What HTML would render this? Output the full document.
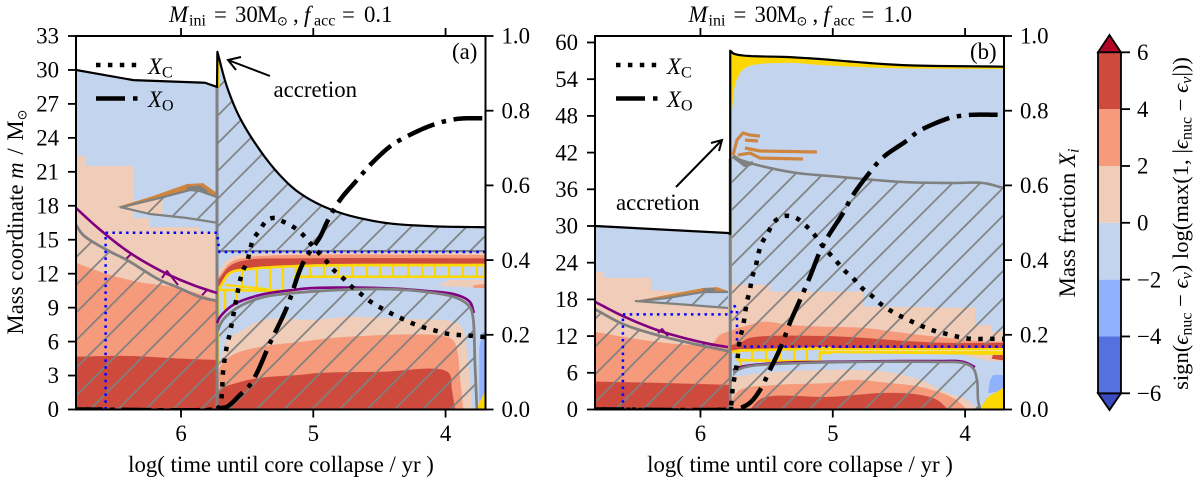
<!DOCTYPE html>
<html lang="en">
<head>
<meta charset="utf-8">
<title>Kippenhahn diagrams</title>
<style>
html,body{margin:0;padding:0;background:#fff;}
svg{display:block;font-family:"Liberation Serif","DejaVu Serif",serif;fill:#000;}
text{font-size:22.8px;}
.sub{font-size:16px;}
.it{font-style:italic;}
.sun{font-family:"DejaVu Sans",sans-serif;font-size:13px;}
</style>
</head>
<body>
<svg id="fig" xmlns="http://www.w3.org/2000/svg" width="1200" height="483" viewBox="0 0 1200 483">
<defs>
<clipPath id="clipA"><rect x="76" y="36" width="409.5" height="373.5"/></clipPath>
<clipPath id="clipB"><rect x="595" y="36" width="409" height="373.5"/></clipPath>
<pattern id="hatchA" patternUnits="userSpaceOnUse" width="27.7" height="27.7" patternTransform="translate(90 409.5)"><path d="M0,27.7 L27.7,0 M-2,2 L2,-2 M25.7,29.7 L29.7,25.7" stroke="#808080" stroke-width="1.7" fill="none"/></pattern>
<pattern id="hatchB" patternUnits="userSpaceOnUse" width="27.7" height="27.7" patternTransform="translate(643 409.5)"><path d="M0,27.7 L27.7,0 M-2,2 L2,-2 M25.7,29.7 L29.7,25.7" stroke="#808080" stroke-width="1.7" fill="none"/></pattern>
</defs>
<g id="panelA" clip-path="url(#clipA)"></g>
<g id="panelB" clip-path="url(#clipB)"></g>
<g id="axes"></g>

<text y="22"><tspan class="it" x="169">M</tspan><tspan class="sub" x="189" dy="3.5">ini</tspan><tspan x="214" dy="-3.5">=</tspan><tspan x="235">30</tspan><tspan x="257">M</tspan><tspan class="sun" x="277" dy="3.5">⊙</tspan><tspan x="293" dy="-3.5">,</tspan><tspan class="it" x="304">f</tspan><tspan class="sub" x="314" dy="3.5">acc</tspan><tspan x="342" dy="-3.5">=</tspan><tspan x="364">0.1</tspan></text>
<text y="22"><tspan class="it" x="688.5">M</tspan><tspan class="sub" x="708.5" dy="3.5">ini</tspan><tspan x="733.5" dy="-3.5">=</tspan><tspan x="754.5">30</tspan><tspan x="776.5">M</tspan><tspan class="sun" x="796.5" dy="3.5">⊙</tspan><tspan x="812.5" dy="-3.5">,</tspan><tspan class="it" x="823.5">f</tspan><tspan class="sub" x="833.5" dy="3.5">acc</tspan><tspan x="861.5" dy="-3.5">=</tspan><tspan x="883.5">1.0</tspan></text>
<text x="281" y="472" text-anchor="middle">log( time until core collapse / yr )</text>
<text x="800" y="472" text-anchor="middle">log( time until core collapse / yr )</text>
<text transform="rotate(-90 23 222)" x="23" y="222" text-anchor="middle">Mass coordinate <tspan class="it">m</tspan> <tspan dx="2">/</tspan> <tspan dx="2">M</tspan><tspan class="sun" dy="3.5">⊙</tspan></text>
<text transform="rotate(-90 1075 223)" x="1075" y="223" text-anchor="middle">Mass fraction <tspan class="it">X</tspan><tspan class="sub it" dy="3.5">i</tspan></text>
<text x="452" y="59">(a)</text>
<text x="970" y="59">(b)</text>

<g>
<line x1="96" y1="65" x2="138" y2="65" stroke="#000" stroke-width="4.5" stroke-dasharray="4.5 7.4"/>
<text x="148" y="74"><tspan class="it">X</tspan><tspan class="sub" dy="3.5">C</tspan></text>
<line x1="96" y1="98.5" x2="138" y2="98.5" stroke="#000" stroke-width="4.5" stroke-dasharray="29 8 4.5 8"/>
<text x="148" y="107"><tspan class="it">X</tspan><tspan class="sub" dy="3.5">O</tspan></text>
</g>
<g>
<line x1="616" y1="65" x2="658" y2="65" stroke="#000" stroke-width="4.5" stroke-dasharray="4.5 7.4"/>
<text x="667" y="74"><tspan class="it">X</tspan><tspan class="sub" dy="3.5">C</tspan></text>
<line x1="616" y1="98.5" x2="658" y2="98.5" stroke="#000" stroke-width="4.5" stroke-dasharray="29 8 4.5 8"/>
<text x="667" y="107"><tspan class="it">X</tspan><tspan class="sub" dy="3.5">O</tspan></text>
</g>

<g>
<text x="273.5" y="97">accretion</text>
<path d="M270,76 L228,60 M241,57 L228,60 L236,70" fill="none" stroke="#000" stroke-width="2"/>
</g>
<g>
<text x="616" y="210">accretion</text>
<path d="M676,187 L722,140 M711,143 L722,140 L719,151" fill="none" stroke="#000" stroke-width="2"/>
</g>

<g id="colorbar"></g>
<text transform="rotate(-90 1188 223.5)" x="1188" y="223.5" text-anchor="middle" style="font-size:22.6px">sign(<tspan class="it">ϵ</tspan><tspan class="sub" dy="3.5">nuc</tspan><tspan dy="-3.5"> − </tspan><tspan class="it">ϵ</tspan><tspan class="sub it" dy="3.5">ν</tspan><tspan dy="-3.5">) log(max(1, |</tspan><tspan class="it">ϵ</tspan><tspan class="sub" dy="3.5">nuc</tspan><tspan dy="-3.5"> − </tspan><tspan class="it">ϵ</tspan><tspan class="sub it" dy="3.5">ν</tspan><tspan dy="-3.5">|))</tspan></text>
</svg>

<script>
/* ---------- axis data ---------- */
const timeTicks=[6,5,4];
const timeTickLabels=['6','5','4'];
const massTicksA=[0,3,6,9,12,15,18,21,24,27,30,33];
const massTicksB=[0,6,12,18,24,30,36,42,48,54,60];
const fractionTicks=[0,0.2,0.4,0.6,0.8,1];
const fractionTickLabels=['0.0','0.2','0.4','0.6','0.8','1.0'];
const colorLevels=[-6,-4,-2,0,2,4,6];
const colorLevelLabels=['−6','−4','−2','0','2','4','6'];
const colorBands=['#5570df','#8fb1fe','#c3d5ee','#f0cdb9','#f59a7b','#cd4a3c'];
const colorUnder='#3b4cc0';
const colorOver='#b40426';

/* ---------- panel (a) mass fractions ---------- */
const aXCtime=[6.79,5.75,5.72,5.705,5.69,5.683,5.652,5.63,5.539,5.501,5.478,5.456,5.403,5.35,5.29,5.252,5.161,5.093,5.025,4.965,4.904,4.844,4.776,4.707,4.639,4.564,4.488,4.405,4.322,4.239,4.148,4.065,3.975,3.877,3.793,3.702];
const aXCvalue=[0,0,0.004,0.012,0.044,0.098,0.173,0.205,0.365,0.395,0.427,0.454,0.481,0.507,0.513,0.507,0.491,0.473,0.446,0.422,0.398,0.373,0.352,0.328,0.309,0.288,0.272,0.256,0.242,0.229,0.218,0.21,0.202,0.199,0.197,0.194];
const aXOtime=[6.79,5.75,5.72,5.652,5.554,5.478,5.426,5.327,5.199,5.078,4.949,4.889,4.798,4.67,4.556,4.405,4.254,4.08,3.914,3.702];
const aXOvalue=[0,0,0.003,0.0075,0.039,0.066,0.098,0.178,0.274,0.392,0.462,0.507,0.561,0.614,0.66,0.708,0.738,0.764,0.778,0.78];

/* ---------- panel (a) structure: [log time, mass] ---------- */
const aTotalBefore=[[6.794,30],[6.36,29.1],[5.819,28.87],[5.728,28.5]];
const aTotalAfterSpike=[[5.725,31.6],[5.652,28.5],[5.554,25.75],[5.403,22.9],[5.252,20.7],[5.10,19.1],[4.851,17.6],[4.496,16.56],[4.118,16.2],[3.698,16.1]];
const aLeftPeach=[[6.794,22.4],[6.718,22.4],[6.718,21.5],[6.363,21.5],[6.363,16.9],[6.242,16.9],[6.242,16.1],[5.856,16.1],[5.856,15.7],[5.728,15.7]];
const aLeftSalmon=[[6.794,12.95],[6.59,12.07],[6.333,11.28],[6.03,10.75],[5.803,9.95],[5.728,9.5]];
const aLeftRed=[[6.794,4.65],[6.408,4.72],[6.03,4.5],[5.728,4.36]];
const aLeftGray=[[6.794,16.3],[6.74,15.42],[6.56,14.09],[6.408,13.2],[6.16,11.44],[6.03,10.82],[5.856,9.94],[5.728,9.59]];
const aLeftPurple=[[6.794,17.8],[6.61,15.86],[6.385,13.83],[6.136,12.15],[5.909,11.0],[5.728,10.29]];
const aPurpleSpurs=[[[6.423,13.21],[6.37,13.83]],[[6.144,11.62],[6.106,12.24],[6.023,11.0]],[[5.841,10.1],[5.803,10.56]]];
const aOrangeTop=[[6.484,17.89],[6.234,18.78],[5.955,19.92],[5.834,20.0],[5.728,19.13]];
const aShellGrayTop=[[6.461,17.85],[6.159,18.69],[5.932,19.39],[5.856,19.3],[5.728,18.77]];
const aShellGrayBottom=[[6.461,17.89],[6.234,17.27],[5.955,16.92],[5.728,16.5]];
const aShellPeach=[[6.461,17.85],[6.234,18.45],[6.14,18.6],[6.14,17.3],[6.234,17.27]];
const aShellBlob=[[5.955,19.5],[5.856,19.6],[5.8,19.1]];
const aBandPeach=[[5.72,11.8],[5.667,13.03],[5.592,13.56],[5.403,13.74],[3.698,13.83]];
const aBandSalmon=[[5.72,11.6],[5.63,12.94],[5.50,13.43],[5.10,13.65],[3.698,13.65]];
const aBandRed=[[5.72,11.4],[5.63,12.68],[5.50,13.2],[5.10,13.34],[3.698,13.34]];
const aBandSalmonLow=[[5.72,10.7],[5.63,12.05],[5.478,12.42],[5.10,12.78],[3.698,12.87]];
const aBandBlue=[[5.72,10.6],[5.63,11.97],[5.478,12.33],[5.10,12.68],[3.698,12.77]];
const aWedgePeach=[[3.98,11.44],[3.698,11.44],[3.698,10.73],[4.05,10.9]];
const aWedgeSalmon=[[3.79,10.98],[3.698,11.1],[3.698,10.73],[3.79,10.73]];
const aCorePeach=[[5.72,3.6],[5.67,5.5],[5.652,6.14],[5.531,7.02],[5.38,7.91],[5.002,7.91],[4.745,8.17],[4.367,8.0],[3.914,7.64],[3.868,7.02],[3.83,4.11],[3.80,0]];
const aCoreSalmon=[[5.72,2.6],[5.705,3.76],[5.607,4.82],[5.403,5.52],[5.10,5.96],[4.745,6.41],[3.99,6.41],[3.93,5.88],[3.89,2.61],[3.868,0]];
const aCoreRed=[[5.72,0.8],[5.705,1.72],[5.577,2.34],[5.403,2.78],[5.10,3.05],[4.95,3.22],[4.496,3.31],[3.983,3.31],[3.953,1.72],[3.93,0]];
const aPocketBlue=[[3.745,0],[3.745,5.5],[3.72,6.85],[3.698,6.85],[3.698,0]];
const aPocketYellow=[[3.77,0],[3.763,0.13],[3.698,1.72],[3.698,0]];
const aYellowTop=[[5.705,10.82],[5.63,12.06],[5.478,12.41],[5.10,12.68],[3.70,12.77]];
const aYellowBottom=[[5.705,10.56],[5.138,10.47],[5.137,11.73],[3.70,11.73]];
const aCellTimes=[5.539,5.426,5.327,5.229,5.131,5.025,4.919,4.813,4.707,4.594,4.496,4.398,4.284,4.178,4.08,3.974,3.868,3.763];
const aYellowExtras=[[[5.667,10.56],[5.667,8.79]],[[5.577,10.56],[5.577,9.67]],[[5.667,11.0],[5.35,10.64]],[[5.72,10.9],[5.72,4.0]],[[5.718,31],[5.718,28.5]]];
const aCorePurple=[[5.728,7.64],[5.705,8.17],[5.607,9.23],[5.403,10.12],[5.153,10.56],[5.002,10.73],[4.496,10.73],[4.14,10.47],[3.914,10.12],[3.816,9.5],[3.785,8.53]];
const aCoreGray=[[5.728,6.85],[5.683,7.91],[5.577,8.97],[5.403,9.85],[5.153,10.29],[4.496,10.65],[4.14,10.38],[3.914,9.85],[3.816,9.06],[3.793,8.17],[3.778,4.11],[3.763,0]];
const aEnvelopeGray=[[5.725,14.0],[3.698,14.0]];
const aBlueDots=[[6.57,0],[6.57,15.62],[5.728,15.62],[5.71,13.92],[3.698,13.92]];
const aBreakGray=[[5.728,0],[5.728,28.4]];

/* ---------- panel (b) mass fractions ---------- */
const bXCtime=[6.797,5.8,5.777,5.754,5.724,5.701,5.679,5.649,5.626,5.611,5.58,5.565,5.535,5.49,5.444,5.369,5.278,5.21,5.15,5.082,5.029,4.968,4.908,4.84,4.779,4.704,4.636,4.56,4.477,4.394,4.311,4.227,4.137,4.046,3.955,3.865,3.774,3.706];
const bXCvalue=[0,0,0.004,0.063,0.124,0.191,0.221,0.288,0.32,0.352,0.387,0.414,0.446,0.473,0.502,0.518,0.513,0.494,0.473,0.44,0.419,0.395,0.371,0.349,0.325,0.304,0.282,0.264,0.248,0.234,0.221,0.21,0.202,0.194,0.189,0.189,0.189,0.189];
const bXOtime=[6.797,5.8,5.701,5.626,5.55,5.475,5.392,5.324,5.248,5.173,5.098,5.038,4.924,4.849,4.72,4.621,4.44,4.379,4.303,4.114,4.039,3.948,3.706];
const bXOvalue=[0,0,0.004,0.018,0.052,0.106,0.168,0.232,0.293,0.355,0.422,0.462,0.525,0.573,0.635,0.675,0.72,0.738,0.754,0.781,0.786,0.789,0.789];

/* ---------- panel (b) structure: [log time, mass] ---------- */
const bTotalBefore=[[6.797,30],[5.792,28.85],[5.775,28.7]];
const bEnvelopeYellow=[[5.775,58.65],[5.74,58.1],[5.324,57.6],[5.098,57.3],[4.847,56.85],[4.47,56.3],[3.706,56.04]];
const bEnvelopeBlue=[[5.76,30],[5.754,50.6],[5.717,54.35],[5.649,55.98],[5.324,56.64],[5.097,56.3],[4.59,55.8],[3.706,55.64]];
const bLeftPeach=[[6.797,22.48],[6.73,22.48],[6.73,21.5],[6.374,21.5],[6.374,19.54],[6.0,19],[5.775,17.5]];
const bLeftSalmon=[[6.797,12.67],[6.586,11.85],[6.329,11.03],[6.079,10.54],[5.921,10.54],[5.853,12.18],[5.775,12.83]];
const bLeftRed=[[6.797,4.54],[6.329,4.33],[5.775,4.0]];
const bLeftGray=[[6.797,16.4],[6.586,13.98],[6.329,12.18],[6.079,10.87],[5.775,9.48]];
const bLeftPurple=[[6.797,17.6],[6.586,15.28],[6.306,12.83],[5.966,10.87],[5.792,10.2]];
const bPurpleSpurs=[[[6.32,12.5],[6.29,13.16],[6.246,12.0]],[[5.98,10.54],[5.96,11.0]]];
const bOrangeTop=[[6.495,17.74],[5.981,19.86],[5.875,20.0],[5.792,19.37]];
const bShellGrayTop=[[6.457,17.74],[6.253,18.22],[5.981,19.2],[5.792,19.2]];
const bShellGrayBottom=[[6.495,17.74],[6.079,17.08],[5.792,16.59]];
const bShellBlob=[[5.981,19.5],[5.89,19.5]];
const bUpperPeach=[[5.77,20.35],[5.475,20.35],[5.475,19.26],[4.772,19.26],[4.772,16.8],[3.925,16.6],[3.925,13.8],[3.804,13.8],[3.804,12.7],[3.706,12.7]];
const bUpperSalmon=[[5.77,12.5],[5.754,13.0],[5.626,13.8],[5.528,14.35],[5.324,13.8],[5.097,13.54],[4.772,13.32],[4.47,12.5],[4.137,11.69],[3.834,11.08],[3.706,11.08]];
const bUpperRed=[[5.77,10.5],[5.701,10.87],[5.626,11.69],[5.097,12.0],[4.772,11.69],[4.47,11.2],[4.137,10.87],[3.706,10.87]];
const bUpperBlue=[[5.775,9.5],[5.73,9.7],[5.70,9.85],[5.1,10.0],[3.706,10.0]];
const bBandYellow=[[5.097,10.05],[3.706,10.05],[3.706,8.9],[5.097,9.24]];
const bBandPale=[[5.097,9.65],[3.706,9.65]];
const bWedgePeach=[[4.016,8.9],[3.706,8.9],[3.706,7.93],[3.813,7.93]];
const bWedgeRed=[[3.79,8.9],[3.706,8.9],[3.706,8.0],[3.80,8.3]];
const bPocketBlue=[[3.827,2.7],[3.812,4.82],[3.789,5.64],[3.706,5.64],[3.706,3.0]];
const bPocketYellow=[[3.887,0],[3.887,0.25],[3.827,2.04],[3.738,3.19],[3.706,3.68],[3.706,0]];
const bCorePeach=[[5.762,5.31],[5.422,6.13],[5.021,6.46],[4.847,6.46],[4.59,6.13],[4.341,4.82],[4.137,2.7],[3.987,1.55],[3.91,0]];
const bCoreSalmon=[[5.775,0.8],[5.762,1.55],[5.701,3.19],[5.422,4.0],[5.021,4.33],[4.847,4.82],[4.59,4.33],[4.341,3.68],[4.092,1.88],[3.987,0]];
const bCoreRed=[[5.626,0],[5.528,1.88],[5.021,2.04],[4.59,2.7],[4.341,2.37],[4.212,1.55],[4.129,0]];
const bCoreGray=[[5.754,6.18],[5.649,7.0],[5.422,7.44],[4.847,7.77],[4.212,7.77],[4.016,7.6],[3.941,6.78],[3.91,4.82],[3.902,1.55],[3.887,0]];
const bCorePurple=[[5.754,6.46],[5.701,6.95],[5.422,7.6],[5.021,7.81],[4.212,7.93],[4.016,7.81],[3.925,6.95]];
const bUpperGray=[[5.762,41.28],[5.626,40.3],[5.475,39.48],[5.27,38.66],[5.021,38.16],[4.847,37.84],[4.47,37.19],[4.092,37.03],[3.865,37.03],[3.706,36.2]];
const bOrangeBranches=[[[5.754,41.6],[5.724,44.06],[5.679,45.2],[5.626,44.87],[5.55,44.7]],[[5.664,44.06],[5.565,43.9]],[[5.664,42.75],[5.55,42.26],[5.12,42.1]],[[5.717,41.6],[5.626,41.93],[5.55,41.1],[5.225,40.95]]];
const bGrayBlob=[[5.754,41.44],[5.664,39.97],[5.603,40.3]];
const bYellowTop=[[5.717,9.61],[5.021,10.05]];
const bYellowBottom=[[5.717,8.09],[5.097,7.81],[5.096,9.24],[5.021,9.24]];
const bCellTimes=[5.611,5.505,5.399,5.293,5.195,5.097];
const bYellowEdge=[[5.772,4.33],[5.772,9.4],[5.717,9.61],[5.717,8.09],[5.695,8.09],[5.695,6.8],[5.754,6.4]];
const bBlueDots=[[6.586,0],[6.586,15.56],[5.775,15.56],[5.742,16.9],[5.724,16.5],[5.724,10.6],[5.69,10.27],[3.706,10.27]];
const bBreakGray=[[5.775,0],[5.775,41]];

/* ---------- dash alignment reference points on the curves: [log time, fraction] ---------- */
const aXCdotAt=[4.707,0.328];
const aXOdotAt=[5.312,0.18];
const bXCdotAt=[4.704,0.304];
const bXOdotAt=[5.361,0.2];

/* ---------- colours ---------- */
const gray='#808080',purple='#800080',gold='#ffd700',orange='#cd853f',dotBlue='#0000ff';

/* ---------- axis functions ---------- */
function makeAxis(tL,tR,pL,pR,mMax){
  return {
    x:function(t){return pL+(tL-t)/(tL-tR)*(pR-pL);},
    m:function(v){return 409.5-v/mMax*373.5;},
    f:function(v){return 409.5-v*373.5;},
    pL:pL,pR:pR
  };
}
const axisA=makeAxis(6.794,3.698,76,485.5,33);
const axisB=makeAxis(6.797,3.706,595,1004,61.06);
const NS='http://www.w3.org/2000/svg';

function add(parent,tag,name,attrs){
  const el=document.createElementNS(NS,tag);
  
  
  for(const k in attrs){el.setAttribute(k,attrs[k]);}
  parent.appendChild(el);
  return el;
}
function d(ax,pts,yf){
  const fy=yf||ax.m;
  return pts.map(function(p,i){return (i?'L':'M')+ax.x(p[0]).toFixed(2)+','+fy(p[1]).toFixed(2);}).join(' ');
}
/* centripetal Catmull-Rom through the read-off points */
function curve(ax,pts,yf){
  const fy=yf||ax.m;
  const out=[pts[0]];
  const P=function(i){
    if(i<0){return [2*pts[0][0]-pts[1][0],2*pts[0][1]-pts[1][1]];}
    if(i>=pts.length){const n=pts.length;return [2*pts[n-1][0]-pts[n-2][0],2*pts[n-1][1]-pts[n-2][1]];}
    return pts[i];
  };
  const dist=function(a,b){
    const dx=ax.x(a[0])-ax.x(b[0]),dy=fy(a[1])-fy(b[1]);
    return Math.pow(dx*dx+dy*dy,0.25)||1e-4;
  };
  const mix=function(a,b,u,u0,u1){
    const w=(u-u0)/(u1-u0);
    return [a[0]+(b[0]-a[0])*w,a[1]+(b[1]-a[1])*w];
  };
  for(let i=0;i<pts.length-1;i++){
    const p0=P(i-1),p1=P(i),p2=P(i+1),p3=P(i+2);
    const t0=0,t1=t0+dist(p0,p1),t2=t1+dist(p1,p2),t3=t2+dist(p2,p3);
    for(let k=1;k<=8;k++){
      const u=t1+(t2-t1)*k/8;
      const A1=mix(p0,p1,u,t0,t1),A2=mix(p1,p2,u,t1,t2),A3=mix(p2,p3,u,t2,t3);
      const B1=mix(A1,A2,u,t0,t2),B2=mix(A2,A3,u,t1,t3);
      out.push(mix(B1,B2,u,t1,t2));
    }
  }
  return out;
}
function pairs(ts,vs){return ts.map(function(t,i){return [t,vs[i]];});}
function Panel(g,ax,hatchId){
  this.fillDown=function(pts,color,name){
    const first=pts[0][0],last=pts[pts.length-1][0];
    const poly=[[first,0]].concat(pts,[[last,0]]);
    add(g,'path',name,{d:d(ax,poly)+' Z',fill:color,stroke:color,'stroke-width':0.3});
  };
  this.poly=function(pts,color,name){
    add(g,'path',name,{d:d(ax,pts)+' Z',fill:color});
  };
  this.band=function(top,bottom,color,name){
    add(g,'path',name,{d:d(ax,top.concat(bottom.slice().reverse()))+' Z',fill:color});
  };
  this.hatch=function(pts,name){
    add(g,'path',name,{d:d(ax,pts)+' Z',fill:'url(#'+hatchId+')'});
  };
  this.line=function(pts,color,width,name,dash){
    const attrs={d:d(ax,pts),fill:'none',stroke:color,'stroke-width':width,'stroke-linejoin':'round'};
    if(dash){attrs['stroke-dasharray']=dash;}
    add(g,'path',name,attrs);
  };
  this.frac=function(ts,vs,width,dash,period,dotPos,anchor,name){
    const pts=curve(ax,pairs(ts,vs),ax.f);
    const el=add(g,'path',name,{d:d(ax,pts,ax.f),fill:'none',stroke:'#000','stroke-width':width,'stroke-dasharray':dash,'stroke-linejoin':'round'});
    const ax0=ax.x(anchor[0]),ay0=ax.f(anchor[1]);
    const total=el.getTotalLength();
    let best=0,bd=1e9;
    for(let s=0;s<=total;s+=0.5){
      const q=el.getPointAtLength(s);
      const e=(q.x-ax0)*(q.x-ax0)+(q.y-ay0)*(q.y-ay0);
      if(e<bd){bd=e;best=s;}
    }
    const off=((dotPos-best)%period+period)%period;
    el.setAttribute('stroke-dashoffset',off.toFixed(2));
  };
}
function interp(list,t){
  for(let i=0;i<list.length-1;i++){
    const a=list[i],b=list[i+1];
    if(t<=a[0]&&t>=b[0]){return a[1]+(b[1]-a[1])*(a[0]-t)/((a[0]-b[0])||1);}
  }
  return list[list.length-1][1];
}
const down=function(pts){return pts.concat([[pts[pts.length-1][0],0],[pts[0][0],0]]);};
const BLUE=colorBands[2],PEACH=colorBands[3],SALMON=colorBands[4],RED=colorBands[5],BLUE2=colorBands[1];

/* ---------- panel (a) ---------- */
(function(){
  const ax=axisA;
  const p=new Panel(document.getElementById('panelA'),ax,'hatchA');
  const after=curve(ax,aTotalAfterSpike);
  const total=aTotalBefore.concat(after);
  const gL=curve(ax,aLeftGray),pL=curve(ax,aLeftPurple);
  const gC=curve(ax,aCoreGray),pC=curve(ax,aCorePurple);
  const top=curve(ax,aYellowTop);
  p.fillDown(total,BLUE,'region-total-star');
  p.fillDown(aLeftPeach,PEACH,'region-low-burning-pre-accretion');
  p.fillDown(curve(ax,aLeftSalmon),SALMON,'region-mid-burning-pre-accretion');
  p.fillDown(curve(ax,aLeftRed),RED,'region-high-burning-pre-accretion');
  p.fillDown(curve(ax,aBandPeach),PEACH,'region-shell-low');
  p.fillDown(curve(ax,aBandSalmon),SALMON,'region-shell-mid');
  p.fillDown(curve(ax,aBandRed),RED,'region-shell-high');
  p.fillDown(curve(ax,aBandSalmonLow),SALMON,'region-shell-mid-lower');
  p.fillDown(curve(ax,aBandBlue),BLUE,'region-below-shell');
  p.poly(aWedgePeach,PEACH,'region-wedge-low');
  p.poly(aWedgeSalmon,SALMON,'region-wedge-mid');
  p.fillDown(curve(ax,aCorePeach),PEACH,'region-core-low');
  p.fillDown(curve(ax,aCoreSalmon),SALMON,'region-core-mid');
  p.fillDown(curve(ax,aCoreRed),RED,'region-core-high');
  p.poly(aPocketBlue,BLUE2,'region-neutrino-pocket');
  p.poly(aPocketYellow,gold,'region-yellow-pocket');
  p.band(aShellGrayTop,aShellGrayBottom,BLUE,'shell-interior');
  p.poly(aShellPeach,PEACH,'shell-interior-peach');
  p.band(aOrangeTop,aShellGrayTop,orange,'shell-orange-zone');
  p.hatch(down(gL),'hatch-pre-accretion-core');
  p.hatch(after.concat([[3.698,14.0],[5.725,14.0]]),'hatch-envelope');
  p.hatch(aShellGrayTop.concat(aShellGrayBottom.slice().reverse()),'hatch-shell');
  p.hatch([[5.72,0]].concat(gC,[[3.763,0]]),'hatch-core');

  p.line(top.concat(aYellowBottom.slice().reverse()).concat([top[0]]),gold,2.6,'convective-shell-outline');
  aCellTimes.forEach(function(t){
    p.line([[t,interp(aYellowTop,t)],[t,interp(aYellowBottom,t)]],gold,2.2,'convective-cell-line');
  });
  aYellowExtras.forEach(function(s){p.line(s,gold,2.2,'yellow-segment');});

  p.line(aBreakGray,gray,3,'accretion-gray-boundary');
  p.line(pL,purple,2.6,'purple-boundary-pre-accretion');
  aPurpleSpurs.forEach(function(s){p.line(s,purple,2,'purple-spur');});
  p.line(gL,gray,2.8,'gray-boundary-pre-accretion');
  p.line(aShellGrayTop,gray,2.2,'shell-gray-top');
  p.line(aShellGrayBottom,gray,2.2,'shell-gray-bottom');
  p.line(aShellBlob,gray,4,'shell-gray-blob');
  p.line(aEnvelopeGray,gray,2.2,'envelope-gray-boundary');
  p.line(pC,purple,2.6,'core-purple-boundary');
  p.line(gC,gray,2.8,'core-gray-boundary');
  p.line(aBlueDots,dotBlue,2.5,'blue-dotted-boundary','2.5 4.3');
  p.line(total,'#000',2.2,'total-mass-line');
  p.frac(aXCtime,aXCvalue,4.5,'4.5 7.4',11.9,2.25,aXCdotAt,'xc-curve');
  p.frac(aXOtime,aXOvalue,4.5,'28.8 7.65 4.5 7.65',48.6,38.7,aXOdotAt,'xo-curve');
})();

/* ---------- panel (b) ---------- */
(function(){
  const ax=axisB;
  const p=new Panel(document.getElementById('panelB'),ax,'hatchB');
  const env=curve(ax,bEnvelopeYellow);
  const gL=curve(ax,bLeftGray),pL=curve(ax,bLeftPurple);
  const gC=curve(ax,bCoreGray),pC=curve(ax,bCorePurple),gU=curve(ax,bUpperGray);
  p.fillDown(bTotalBefore,BLUE,'region-total-star-pre-accretion');
  p.fillDown(env,gold,'region-envelope-yellow');
  p.fillDown(curve(ax,bEnvelopeBlue),BLUE,'region-envelope');
  p.fillDown(bLeftPeach,PEACH,'region-low-burning-pre-accretion');
  p.fillDown(curve(ax,bLeftSalmon),SALMON,'region-mid-burning-pre-accretion');
  p.fillDown(curve(ax,bLeftRed),RED,'region-high-burning-pre-accretion');
  p.fillDown(bUpperPeach,PEACH,'region-shell-low');
  p.fillDown(curve(ax,bUpperSalmon),SALMON,'region-shell-mid');
  p.fillDown(curve(ax,bUpperRed),RED,'region-shell-high');
  p.fillDown(bUpperBlue,BLUE,'region-below-shell');
  p.poly(bBandYellow,gold,'region-yellow-band');
  p.poly(bWedgePeach,PEACH,'region-wedge-low');
  p.poly(bWedgeRed,RED,'region-wedge-high');
  p.fillDown(curve(ax,bCorePeach),PEACH,'region-core-low');
  p.fillDown(curve(ax,bCoreSalmon),SALMON,'region-core-mid');
  p.fillDown(curve(ax,bCoreRed),RED,'region-core-high');
  p.poly(bPocketBlue,BLUE2,'region-neutrino-pocket');
  p.poly(bPocketYellow,gold,'region-yellow-pocket');
  p.band(bShellGrayTop,bShellGrayBottom,BLUE,'shell-interior');
  p.band(bOrangeTop,bShellGrayTop,orange,'shell-orange-zone');
  p.hatch(down(gL),'hatch-pre-accretion-core');
  p.hatch(gU.concat([[3.706,10.6],[5.762,10.6]]),'hatch-envelope');
  p.hatch(bShellGrayTop.concat(bShellGrayBottom.slice().reverse()),'hatch-shell');
  p.hatch([[5.754,0]].concat(gC,[[3.887,0]]),'hatch-core');

  p.line(bYellowTop.concat(bYellowBottom.slice().reverse()).concat([bYellowTop[0]]),gold,2.6,'convective-shell-outline');
  bCellTimes.forEach(function(t){
    p.line([[t,interp(bYellowTop,t)],[t,interp(bYellowBottom,t)]],gold,2.2,'convective-cell-line');
  });
  p.line(bYellowEdge,gold,2.6,'yellow-edge');
  p.line(bBandPale,'#efe08c',1.2,'yellow-band-pale-line');

  p.line(bBreakGray,gray,3,'accretion-gray-boundary');
  p.line(pL,purple,2.6,'purple-boundary-pre-accretion');
  bPurpleSpurs.forEach(function(s){p.line(s,purple,2,'purple-spur');});
  p.line(gL,gray,2.8,'gray-boundary-pre-accretion');
  p.line(bShellGrayTop,gray,2.2,'shell-gray-top');
  p.line(bShellGrayBottom,gray,2.2,'shell-gray-bottom');
  p.line(bShellBlob,gray,4,'shell-gray-blob');
  p.line(gU,gray,2.6,'envelope-gray-boundary');
  p.line(bGrayBlob,gray,4,'envelope-gray-blob');
  bOrangeBranches.forEach(function(s){p.line(s,orange,3.2,'orange-branch');});
  p.line(pC,purple,2.4,'core-purple-boundary');
  p.line(gC,gray,2.6,'core-gray-boundary');
  p.line(bBlueDots,dotBlue,2.5,'blue-dotted-boundary','2.5 4.3');
  p.line(bTotalBefore.concat(env),'#000',2.2,'total-mass-line');
  p.frac(bXCtime,bXCvalue,4.5,'4.5 7.4',11.9,2.25,bXCdotAt,'xc-curve');
  p.frac(bXOtime,bXOvalue,4.5,'28.8 7.65 4.5 7.65',48.6,38.7,bXOdotAt,'xo-curve');
})();

/* ---------- axes ---------- */
(function(){
  const g=document.getElementById('axes');
  const tickW=1.8,tickL=8,top=36,bot=409.5;
  function label(x,y,txt,anchor,name){
    const t=add(g,'text',name,{x:x,y:y,'text-anchor':anchor});
    t.textContent=txt;
  }
  function frame(ax,massTicks,name){
    add(g,'rect',name+'-frame',{x:ax.pL,y:top,width:ax.pR-ax.pL,height:bot-top,fill:'none',stroke:'#000','stroke-width':2});
    timeTicks.forEach(function(v,i){
      const x=ax.x(v);
      add(g,'line',name+'-x-tick',{x1:x,x2:x,y1:bot,y2:bot+tickL,stroke:'#000','stroke-width':tickW});
      add(g,'line',name+'-x-tick-top',{x1:x,x2:x,y1:top,y2:top-tickL,stroke:'#000','stroke-width':tickW});
      label(x,441,timeTickLabels[i],'middle',name+'-x-tick-label');
    });
    massTicks.forEach(function(v){
      const y=ax.m(v);
      add(g,'line',name+'-y-tick',{x1:ax.pL-tickL,x2:ax.pL,y1:y,y2:y,stroke:'#000','stroke-width':tickW});
      label(ax.pL-17,y+7.7,String(v),'end',name+'-y-tick-label');
    });
    fractionTicks.forEach(function(v,i){
      const y=ax.f(v);
      add(g,'line',name+'-right-tick',{x1:ax.pR,x2:ax.pR+tickL,y1:y,y2:y,stroke:'#000','stroke-width':tickW});
      label(ax.pR+16,y+7.7,fractionTickLabels[i],'start',name+'-right-tick-label');
    });
  }
  frame(axisA,massTicksA,'panel-a');
  frame(axisB,massTicksB,'panel-b');
})();

/* ---------- colorbar ---------- */
(function(){
  const g=document.getElementById('colorbar');
  const L=1098,R=1121,T=52.3,B=393.3;
  const cy=function(v){return B-(v+6)/12*(B-T);};
  add(g,'path','colorbar-under-cap',{d:'M'+L+','+B+' L'+(L+R)/2+',410 L'+R+','+B+' Z',fill:colorUnder,stroke:'#000','stroke-width':1.8,'stroke-linejoin':'miter'});
  add(g,'path','colorbar-over-cap',{d:'M'+L+','+T+' L'+(L+R)/2+',35 L'+R+','+T+' Z',fill:colorOver,stroke:'#000','stroke-width':1.8,'stroke-linejoin':'miter'});
  colorBands.forEach(function(c,i){
    add(g,'rect','colorbar-band',{x:L,y:cy(colorLevels[i+1]),width:R-L,height:cy(colorLevels[i])-cy(colorLevels[i+1]),fill:c});
  });
  add(g,'rect','colorbar-outline',{x:L,y:T,width:R-L,height:B-T,fill:'none',stroke:'#000','stroke-width':1.8});
  colorLevels.forEach(function(v,i){
    const y=cy(v);
    add(g,'line','colorbar-tick',{x1:R,x2:R+9,y1:y,y2:y,stroke:'#000','stroke-width':1.8});
    const t=add(g,'text','colorbar-tick-label',{x:1137,y:y+7.7});
    t.textContent=colorLevelLabels[i];
  });
})();
</script>
</body>
</html>
